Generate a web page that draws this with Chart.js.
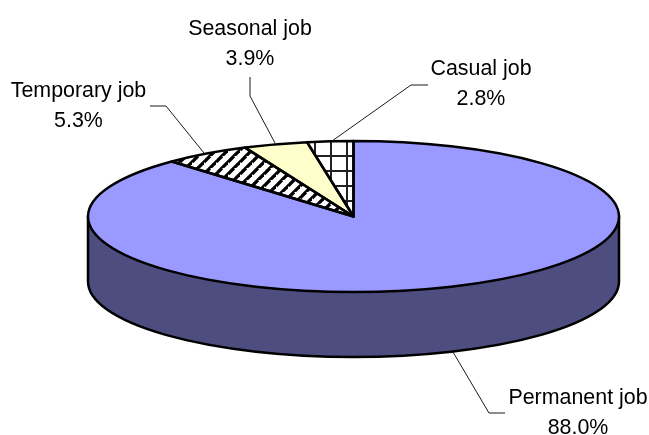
<!DOCTYPE html>
<html><head><meta charset="utf-8">
<style>html,body{margin:0;padding:0;background:#fff}#w{width:649px;height:435px;position:relative}</style>
<script src="https://cdn.jsdelivr.net/npm/chart.js@4"></script>
</head><body><div id="w"><canvas id="c" width="649" height="435"></canvas></div>
<script>
const categories = ['Permanent job','Temporary job','Seasonal job','Casual job'];
const shares = [88.0,5.3,3.9,2.8];
const labelCentres = [[578,398],[78.5,91],[250,29],[481,69]];
const leaderPaths = [
  [[453,352],[489,413],[505,413]],
  [[150,106],[166,106],[204,153]],
  [[250,77],[250,96],[275,143]],
  [[428,85],[411,85],[332,141]]
];
const xStretch = 265.5/75.5, wallDepth = 65, centreX = 353.5;

function stripes(){
  const p=document.createElement('canvas');p.width=12;p.height=12;
  const g=p.getContext('2d');g.fillStyle='#fff';g.fillRect(0,0,12,12);
  g.strokeStyle='#000';g.lineWidth=3.3;
  [[6,0,0,6],[18,0,0,18]].forEach(l=>{g.beginPath();g.moveTo(l[0],l[1]);g.lineTo(l[2],l[3]);g.stroke();});
  return pat(p);
}
function grid(){
  const p=document.createElement('canvas');p.width=16;p.height=15;
  const g=p.getContext('2d');g.fillStyle='#fff';g.fillRect(0,0,16,15);
  g.fillStyle='#222';g.fillRect(10,0,2,15);g.fillRect(0,5,16,2);
  return pat(p);
}
function pat(p){
  const q=document.createElement('canvas').getContext('2d').createPattern(p,'repeat');
  q.setTransform(new DOMMatrix().translate(centreX*(1-1/xStretch),0).scale(1/xStretch,1));
  return q;
}
const sliceColors=['#9999ff',stripes(),'#ffffcc',grid()];

const pie3d={
  id:'pie3d',
  beforeDatasetsDraw(ch){
    const a=ch.getDatasetMeta(0).data[0],ctx=ch.ctx,rx=a.outerRadius*xStretch,ry=a.outerRadius;
    ctx.save();
    ctx.beginPath();
    ctx.moveTo(a.x-rx,a.y);
    ctx.lineTo(a.x-rx,a.y+wallDepth);
    ctx.ellipse(a.x,a.y+wallDepth,rx,ry,0,Math.PI,0,true);
    ctx.lineTo(a.x+rx,a.y);
    ctx.closePath();
    ctx.fillStyle='#4d4d80';ctx.fill();
    ctx.lineWidth=2.5;ctx.strokeStyle='#000';ctx.stroke();
    ctx.restore();
  },
  beforeDatasetDraw(ch){
    const a=ch.getDatasetMeta(0).data[0],ctx=ch.ctx;
    ctx.save();ctx.translate(a.x,a.y);ctx.scale(xStretch,1);ctx.translate(-a.x,-a.y);
  },
  afterDatasetDraw(ch){ch.ctx.restore();},
  afterDatasetsDraw(ch){
    const arcs=ch.getDatasetMeta(0).data,ctx=ch.ctx;
    ctx.save();
    ctx.lineWidth=2.5;ctx.strokeStyle='#000';ctx.lineJoin='round';
    arcs.forEach(a=>{
      const rx=a.outerRadius*xStretch,ry=a.outerRadius;
      ctx.beginPath();
      ctx.moveTo(a.x,a.y);
      ctx.ellipse(a.x,a.y,rx,ry,0,a.startAngle,a.endAngle);
      ctx.closePath();ctx.stroke();
    });
    ctx.lineWidth=1;ctx.strokeStyle='#1a1a1a';ctx.lineJoin='miter';
    leaderPaths.forEach(p=>{
      ctx.beginPath();p.forEach((q,i)=>i?ctx.lineTo(q[0],q[1]):ctx.moveTo(q[0],q[1]));ctx.stroke();
    });
    ctx.fillStyle='#000';ctx.font='21.4px "Liberation Sans"';ctx.textAlign='center';ctx.textBaseline='middle';
    categories.forEach((c,i)=>{
      ctx.fillText(c,labelCentres[i][0],labelCentres[i][1]);
      ctx.fillText(shares[i].toFixed(1)+'%',labelCentres[i][0],labelCentres[i][1]+30);
    });
    ctx.restore();
  }
};

new Chart(document.getElementById('c'),{
  type:'pie',
  data:{labels:categories,datasets:[{data:shares,backgroundColor:sliceColors,borderWidth:0,clip:false}]},
  options:{
    responsive:false,animation:false,
    layout:{padding:{left:88,right:30,top:141,bottom:143}},
    plugins:{legend:{display:false},tooltip:{enabled:false},title:{display:false}}
  },
  plugins:[pie3d]
});
</script></body></html>
